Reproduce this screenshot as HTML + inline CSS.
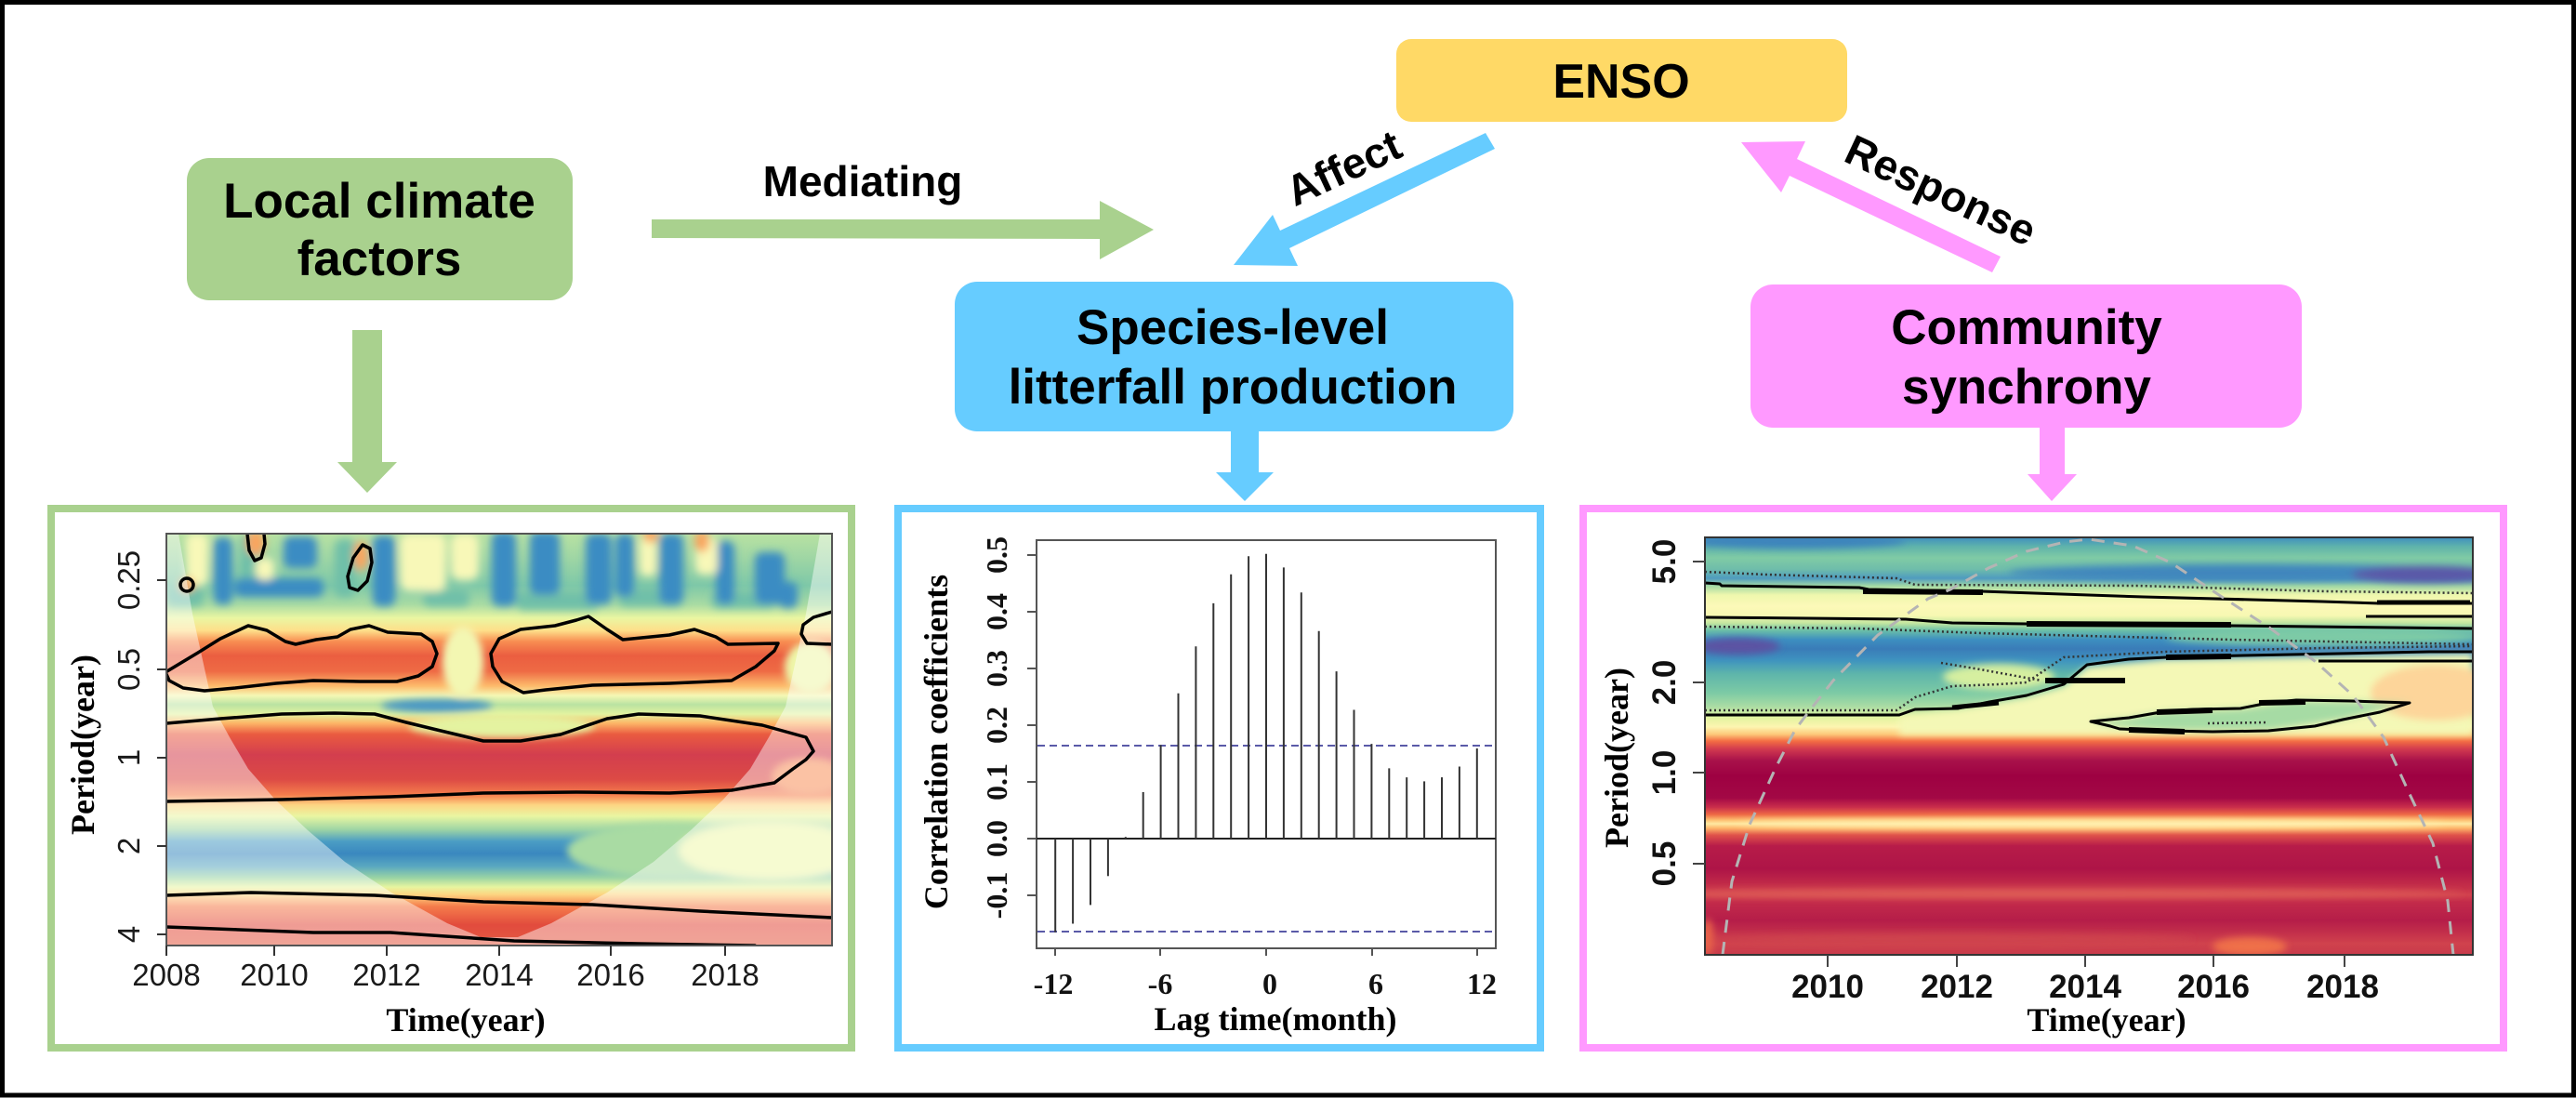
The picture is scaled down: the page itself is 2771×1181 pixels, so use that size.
<!DOCTYPE html>
<html><head><meta charset="utf-8"><style>
html,body{margin:0;padding:0;background:#fff;}
svg{display:block;}
.sb{font-family:"Liberation Sans",Arial,sans-serif;font-weight:bold;}
.sr{font-family:"Liberation Sans",Arial,sans-serif;}
.tb{font-family:"Liberation Serif","Times New Roman",serif;font-weight:bold;}
</style></head><body>
<svg width="2771" height="1181" viewBox="0 0 2771 1181" xmlns="http://www.w3.org/2000/svg">
<defs>
<filter id="b3" x="-30%" y="-30%" width="160%" height="160%"><feGaussianBlur stdDeviation="4.5"/></filter>
<filter id="b4" x="-20%" y="-20%" width="140%" height="140%"><feGaussianBlur stdDeviation="4"/></filter>
<clipPath id="cl"><rect x="179" y="574" width="716" height="443"/></clipPath>
<clipPath id="cr"><rect x="1834" y="578" width="826" height="449"/></clipPath>
<linearGradient id="gl" x1="0" y1="574" x2="0" y2="1017" gradientUnits="userSpaceOnUse">
<stop offset="0" stop-color="#b9e2a2"/><stop offset=".059" stop-color="#9fd6a4"/><stop offset=".126" stop-color="#7ec8a8"/>
<stop offset=".172" stop-color="#a9dba3"/><stop offset=".205" stop-color="#eaf6a2"/><stop offset=".235" stop-color="#fedf8a"/>
<stop offset=".262" stop-color="#f88d52"/><stop offset=".296" stop-color="#eb5e40"/><stop offset=".334" stop-color="#ee6a44"/>
<stop offset=".370" stop-color="#fdbb6c"/><stop offset=".393" stop-color="#f5f8b4"/><stop offset=".415" stop-color="#b9e2a1"/>
<stop offset=".438" stop-color="#e2f3a0"/><stop offset=".460" stop-color="#fdb667"/><stop offset=".487" stop-color="#ea5b40"/>
<stop offset=".537" stop-color="#d33e4e"/><stop offset=".596" stop-color="#dc4a45"/><stop offset=".634" stop-color="#f57d4c"/>
<stop offset=".659" stop-color="#fdd583"/><stop offset=".686" stop-color="#e9f6a2"/><stop offset=".718" stop-color="#9fd5a4"/>
<stop offset=".747" stop-color="#4b9dc4"/><stop offset=".777" stop-color="#3a88bf"/><stop offset=".808" stop-color="#5aa8c0"/>
<stop offset=".835" stop-color="#98d3a4"/><stop offset=".858" stop-color="#e7f5a0"/><stop offset=".876" stop-color="#fdd581"/>
<stop offset=".905" stop-color="#f57c4b"/><stop offset=".950" stop-color="#e24b3d"/><stop offset="1" stop-color="#e45a42"/>
</linearGradient>
<linearGradient id="gr" x1="0" y1="578" x2="0" y2="1027" gradientUnits="userSpaceOnUse">
<stop offset="0" stop-color="#3f8fc0"/><stop offset=".022" stop-color="#5fb3ab"/><stop offset=".049" stop-color="#80cba5"/>
<stop offset=".076" stop-color="#6fbdaa"/><stop offset=".098" stop-color="#4f9bbf"/><stop offset=".116" stop-color="#a2d9a4"/>
<stop offset=".138" stop-color="#eef7ad"/><stop offset=".165" stop-color="#fcf9b8"/><stop offset=".187" stop-color="#f7f8b2"/>
<stop offset=".205" stop-color="#c5e7a0"/><stop offset=".223" stop-color="#6bbfa8"/><stop offset=".245" stop-color="#3d8fc0"/>
<stop offset=".267" stop-color="#3a7cb8"/><stop offset=".294" stop-color="#3e93bf"/><stop offset=".327" stop-color="#5eb5ab"/>
<stop offset=".372" stop-color="#7ccaa5"/><stop offset=".405" stop-color="#aadca4"/><stop offset=".432" stop-color="#e3f4a0"/>
<stop offset=".454" stop-color="#fdf5b0"/><stop offset=".472" stop-color="#fdc879"/><stop offset=".488" stop-color="#f46d43"/>
<stop offset=".508" stop-color="#d0384f"/><stop offset=".535" stop-color="#a8114a"/><stop offset=".572" stop-color="#9e0142"/>
<stop offset=".624" stop-color="#a30845"/><stop offset=".646" stop-color="#c92d4b"/><stop offset=".664" stop-color="#ef6a45"/>
<stop offset=".677" stop-color="#fdbf70"/><stop offset=".686" stop-color="#fee9a2"/><stop offset=".697" stop-color="#fdb468"/>
<stop offset=".713" stop-color="#e0534a"/><stop offset=".739" stop-color="#b71c49"/><stop offset=".795" stop-color="#ae1447"/>
<stop offset=".840" stop-color="#c63049"/><stop offset=".856" stop-color="#d2424e"/><stop offset=".873" stop-color="#c32b4a"/>
<stop offset=".918" stop-color="#b51d49"/><stop offset=".951" stop-color="#c5324b"/><stop offset=".973" stop-color="#d0424d"/>
<stop offset="1" stop-color="#c83a4b"/>
</linearGradient>
</defs>

<rect x="0" y="0" width="2771" height="1181" fill="#fff"/>
<rect x="2.5" y="2.5" width="2766" height="1175.5" fill="none" stroke="#000" stroke-width="5"/>

<!-- Top boxes -->
<rect x="201" y="170" width="415" height="153" rx="24" fill="#a9d18e"/>
<text class="sb" x="408" y="234" font-size="53" text-anchor="middle">Local climate</text>
<text class="sb" x="408" y="296" font-size="53" text-anchor="middle">factors</text>

<rect x="1502" y="42" width="485" height="89" rx="16" fill="#ffd966"/>
<text class="sb" x="1744" y="105" font-size="52" text-anchor="middle">ENSO</text>

<rect x="1027" y="303" width="601" height="161" rx="24" fill="#66ccff"/>
<text class="sb" x="1326" y="370" font-size="53" text-anchor="middle">Species-level</text>
<text class="sb" x="1326" y="434" font-size="53" text-anchor="middle">litterfall production</text>

<rect x="1883" y="306" width="593" height="154" rx="24" fill="#ff99ff"/>
<text class="sb" x="2180" y="370" font-size="53" text-anchor="middle">Community</text>
<text class="sb" x="2180" y="434" font-size="53" text-anchor="middle">synchrony</text>

<!-- Arrows -->
<polygon points="701,236 1183,236 1183,216 1241,247 1183,279 1183,257 701,256" fill="#a9d18e"/>
<text class="sb" x="928" y="211" font-size="46" text-anchor="middle">Mediating</text>
<polygon points="379,355 411,355 411,497 427,497 395,530 363,497 379,497" fill="#a9d18e"/>
<polygon points="1324,464 1354,464 1354,508 1370,508 1339,539 1308,508 1324,508" fill="#66ccff"/>
<polygon points="2194,460 2221,460 2221,510 2234,510 2207,539 2181,510 2194,510" fill="#ff99ff"/>
<polygon points="1598,143 1377,248 1369,231 1327,285 1396,286 1387,267 1608,160" fill="#66ccff"/>
<text class="sb" font-size="46" text-anchor="middle" transform="translate(1452,195) rotate(-25)">Affect</text>
<polygon points="1873,153 1942,152 1933,171 2152,276 2143,293 1925,189 1916,207" fill="#ff99ff"/>
<text class="sb" font-size="46" text-anchor="middle" transform="translate(2081,219) rotate(25)">Response</text>

<!-- Panels -->
<rect x="55" y="547" width="861" height="580" fill="none" stroke="#a9d18e" stroke-width="8"/>
<rect x="966" y="547" width="691" height="580" fill="none" stroke="#66ccff" stroke-width="8"/>
<rect x="1703" y="547" width="990" height="580" fill="none" stroke="#ff99ff" stroke-width="8"/>

<!-- ===== Left wavelet ===== -->
<g clip-path="url(#cl)">
<rect x="179" y="574" width="716" height="443" fill="url(#gl)"/>
<g filter="url(#b3)">
<g fill="#6fbfa9">
<rect x="258" y="574" width="26" height="60" rx="8"/><rect x="360" y="580" width="22" height="62" rx="8"/>
<rect x="555" y="636" width="90" height="20" rx="8"/><rect x="665" y="632" width="70" height="20" rx="8"/>
<rect x="765" y="636" width="70" height="18" rx="8"/><rect x="455" y="634" width="50" height="18" rx="8"/>
<rect x="179" y="630" width="40" height="22" rx="8"/>
</g>
<g fill="#3a8cc3">
<rect x="230" y="578" width="20" height="72" rx="8"/><rect x="252" y="622" width="96" height="20" rx="8"/>
<rect x="305" y="577" width="36" height="34" rx="8"/><rect x="401" y="576" width="24" height="76" rx="8"/>
<rect x="529" y="572" width="26" height="80" rx="8"/><rect x="570" y="572" width="32" height="68" rx="8"/>
<rect x="630" y="574" width="28" height="76" rx="8"/><rect x="662" y="574" width="20" height="68" rx="8"/>
<rect x="709" y="574" width="26" height="76" rx="8"/><rect x="770" y="582" width="20" height="68" rx="8"/>
<rect x="812" y="594" width="32" height="56" rx="8"/><rect x="838" y="626" width="20" height="28" rx="8"/>
</g>
<g fill="#f8f8b8">
<rect x="430" y="574" width="50" height="62" rx="10"/><rect x="485" y="574" width="30" height="50" rx="10"/>
<rect x="688" y="576" width="18" height="44" rx="8"/><rect x="748" y="578" width="24" height="40" rx="8"/>
<rect x="275" y="600" width="20" height="24" rx="8"/><rect x="200" y="574" width="24" height="56" rx="8"/>
</g>
<g fill="#f9a55e">
<ellipse cx="275" cy="584" rx="10" ry="14"/><ellipse cx="388" cy="598" rx="8" ry="16"/>
<ellipse cx="755" cy="582" rx="8" ry="12"/><ellipse cx="700" cy="576" rx="8" ry="8"/>
<ellipse cx="201" cy="629" rx="8" ry="8"/>
</g>
</g>
<g filter="url(#b4)">
<ellipse cx="498" cy="712" rx="22" ry="38" fill="#f3f7b2"/>
<ellipse cx="872" cy="718" rx="28" ry="28" fill="#eef6a8"/>
<ellipse cx="470" cy="759" rx="60" ry="7" fill="#4a97c4"/>
<ellipse cx="540" cy="781" rx="100" ry="13" fill="#e4f3a0"/>
<ellipse cx="720" cy="915" rx="110" ry="30" fill="#a9dba3"/>
<ellipse cx="830" cy="915" rx="100" ry="32" fill="#eef7ac"/>
<ellipse cx="870" cy="835" rx="40" ry="20" fill="#f7905a"/>
</g>
<path fill-rule="evenodd" fill="#fff" fill-opacity="0.45" d="M179 574 H895 V1017 H179 Z M192 574 L207 660 L229 760 L247 793 L267 827 L296 860 L331 893 L371 927 L421 960 L481 993 L517 1008 L557 1008 L593 993 L653 960 L703 927 L743 893 L778 860 L807 827 L827 793 L845 760 L867 660 L882 574 Z"/>
<g fill="none" stroke="#000" stroke-width="3.5" stroke-linejoin="round" stroke-linecap="round">
<ellipse cx="201" cy="629" rx="7" ry="7"/>
<path d="M266 574 L268 592 L274 603 L281 600 L285 585 L284 574"/>
<path d="M390 586 L398 590 L400 605 L395 625 L385 635 L376 632 L374 620 L380 600 Z"/>
<path d="M178 723 L213 702 L237 687 L267 673 L287 678 L307 690 L318 693 L340 688 L363 685 L377 677 L397 673 L417 680 L453 682 L465 690 L470 703 L465 717 L450 727 L427 733 L387 733 L337 732 L297 735 L253 740 L220 743 L197 740 L182 732 Z"/>
<path d="M528 703 L537 687 L560 677 L597 673 L620 667 L633 663 L653 677 L670 688 L720 683 L747 677 L770 685 L783 693 L837 692 L833 700 L813 717 L787 732 L720 735 L637 737 L587 742 L563 745 L540 733 L530 717 Z"/>
<path d="M895 658 L875 664 L864 672 L862 682 L868 692 L895 693"/>
<path d="M179 778 L237 773 L303 768 L360 767 L403 768 L437 777 L470 785 L520 797 L560 797 L603 790 L653 773 L687 768 L753 770 L820 780 L867 793 L875 808 L867 817 L853 827 L833 842 L787 850 L720 853 L620 852 L520 853 L420 857 L303 860 L179 862"/>
<path d="M179 963 L270 960 L403 963 L520 970 L637 973 L753 980 L895 987"/>
<path d="M179 997 L337 1003 L420 1003 L553 1012 L687 1015 L812 1017"/>
</g>
</g>
<rect x="179" y="574" width="716" height="443" fill="none" stroke="#555" stroke-width="2"/>
<g stroke="#333" stroke-width="2">
<line x1="169" y1="624" x2="179" y2="624"/><line x1="169" y1="720" x2="179" y2="720"/>
<line x1="169" y1="815" x2="179" y2="815"/><line x1="169" y1="910" x2="179" y2="910"/>
<line x1="169" y1="1005" x2="179" y2="1005"/>
<line x1="179" y1="1017" x2="179" y2="1028"/><line x1="295" y1="1017" x2="295" y2="1028"/>
<line x1="416" y1="1017" x2="416" y2="1028"/><line x1="537" y1="1017" x2="537" y2="1028"/>
<line x1="657" y1="1017" x2="657" y2="1028"/><line x1="780" y1="1017" x2="780" y2="1028"/>
</g>
<g class="sr" font-size="33" fill="#1a1a1a" text-anchor="middle">
<text transform="translate(150,624) rotate(-90)">0.25</text>
<text transform="translate(150,720) rotate(-90)">0.5</text>
<text transform="translate(150,815) rotate(-90)">1</text>
<text transform="translate(150,910) rotate(-90)">2</text>
<text transform="translate(150,1005) rotate(-90)">4</text>
<text x="179" y="1060">2008</text><text x="295" y="1060">2010</text><text x="416" y="1060">2012</text>
<text x="537" y="1060">2014</text><text x="657" y="1060">2016</text><text x="780" y="1060">2018</text>
</g>
<text class="tb" font-size="36" text-anchor="middle" x="501" y="1109">Time(year)</text>
<text class="tb" font-size="36" text-anchor="middle" transform="translate(101,801) rotate(-90)">Period(year)</text>

<!-- ===== Middle ACF ===== -->
<rect x="1115" y="581" width="494" height="439" fill="#fff" stroke="#555" stroke-width="2"/>
<line x1="1115" y1="902" x2="1609" y2="902" stroke="#222" stroke-width="2"/>
<g stroke="#5a5aa8" stroke-width="2" stroke-dasharray="8,5">
<line x1="1116" y1="802" x2="1608" y2="802"/><line x1="1116" y1="1002" x2="1608" y2="1002"/>
</g>
<g stroke="#333" stroke-width="2">
<line x1="1135.2" y1="902" x2="1135.2" y2="1002.7"/><line x1="1154.1" y1="902" x2="1154.1" y2="993.5"/>
<line x1="1173" y1="902" x2="1173" y2="973.4"/><line x1="1191.9" y1="902" x2="1191.9" y2="942.3"/>
<line x1="1210.8" y1="902" x2="1210.8" y2="900.2"/><line x1="1229.7" y1="902" x2="1229.7" y2="852"/>
<line x1="1248.6" y1="902" x2="1248.6" y2="801.4"/><line x1="1267.5" y1="902" x2="1267.5" y2="745.8"/>
<line x1="1286.4" y1="902" x2="1286.4" y2="695.2"/><line x1="1305.3" y1="902" x2="1305.3" y2="648.9"/>
<line x1="1324.2" y1="902" x2="1324.2" y2="617.7"/><line x1="1343.1" y1="902" x2="1343.1" y2="598.2"/>
<line x1="1362" y1="902" x2="1362" y2="595.8"/><line x1="1380.9" y1="902" x2="1380.9" y2="610.4"/>
<line x1="1399.8" y1="902" x2="1399.8" y2="637.3"/><line x1="1418.7" y1="902" x2="1418.7" y2="678.7"/>
<line x1="1437.6" y1="902" x2="1437.6" y2="722.1"/><line x1="1456.5" y1="902" x2="1456.5" y2="763.5"/>
<line x1="1475.4" y1="902" x2="1475.4" y2="800.1"/><line x1="1494.3" y1="902" x2="1494.3" y2="826.4"/>
<line x1="1513.2" y1="902" x2="1513.2" y2="836.1"/><line x1="1532.1" y1="902" x2="1532.1" y2="840.4"/>
<line x1="1551" y1="902" x2="1551" y2="836.1"/><line x1="1569.9" y1="902" x2="1569.9" y2="824.5"/>
<line x1="1588.8" y1="902" x2="1588.8" y2="805"/>
</g>
<g stroke="#555" stroke-width="2">
<line x1="1105" y1="597" x2="1115" y2="597"/><line x1="1105" y1="658" x2="1115" y2="658"/>
<line x1="1105" y1="719" x2="1115" y2="719"/><line x1="1105" y1="780" x2="1115" y2="780"/>
<line x1="1105" y1="841" x2="1115" y2="841"/><line x1="1105" y1="902" x2="1115" y2="902"/>
<line x1="1105" y1="963" x2="1115" y2="963"/>
<line x1="1135" y1="1020" x2="1135" y2="1028"/><line x1="1248" y1="1020" x2="1248" y2="1028"/>
<line x1="1362" y1="1020" x2="1362" y2="1028"/><line x1="1476" y1="1020" x2="1476" y2="1028"/>
<line x1="1589" y1="1020" x2="1589" y2="1028"/>
</g>
<g class="tb" font-size="32" fill="#111" text-anchor="middle">
<text transform="translate(1083,597) rotate(-90)">0.5</text>
<text transform="translate(1083,658) rotate(-90)">0.4</text>
<text transform="translate(1083,719) rotate(-90)">0.3</text>
<text transform="translate(1083,780) rotate(-90)">0.2</text>
<text transform="translate(1083,841) rotate(-90)">0.1</text>
<text transform="translate(1083,902) rotate(-90)">0.0</text>
<text transform="translate(1083,963) rotate(-90)">-0.1</text>
<text x="1133" y="1069">-12</text><text x="1248" y="1069">-6</text><text x="1366" y="1069">0</text>
<text x="1480" y="1069">6</text><text x="1594" y="1069">12</text>
</g>
<text class="tb" font-size="36" text-anchor="middle" x="1372" y="1108">Lag time(month)</text>
<text class="tb" font-size="36" text-anchor="middle" transform="translate(1019,798) rotate(-90)">Correlation coefficients</text>

<!-- ===== Right wavelet ===== -->
<g clip-path="url(#cr)">
<rect x="1834" y="578" width="826" height="449" fill="url(#gr)"/>
<g filter="url(#b4)">
<polygon points="2043,771 2106,764 2180,750 2220,738 2245,717 2330,709 2660,703 2660,790 2043,790" fill="#f4f8b6"/>
<ellipse cx="2620" cy="745" rx="70" ry="30" fill="#fdd59a"/>
<ellipse cx="2150" cy="728" rx="60" ry="14" fill="#d6efa0"/>
<path d="M2249 776 L2290 772 L2330 765 L2410 762 L2470 753 L2530 754 L2592 756 L2520 774 L2440 786 L2330 786 L2270 781 Z" fill="#a6dba4"/>
<ellipse cx="1870" cy="695" rx="45" ry="9" fill="#5b52a3"/>
<ellipse cx="2420" cy="616" rx="260" ry="9" fill="#3f86bd"/>
<ellipse cx="2610" cy="618" rx="80" ry="9" fill="#5a58a8"/>
<ellipse cx="1930" cy="582" rx="120" ry="8" fill="#3c84bc"/>
<ellipse cx="2500" cy="685" rx="170" ry="10" fill="#7dcba6"/>
<ellipse cx="2250" cy="886" rx="380" ry="4" fill="#fff1b0"/>
<ellipse cx="2200" cy="961" rx="450" ry="5" fill="#de5c56"/>
<ellipse cx="2420" cy="1018" rx="40" ry="10" fill="#ef7049"/>
<ellipse cx="1837" cy="1008" rx="6" ry="20" fill="#e9654a"/>
<ellipse cx="2100" cy="1010" rx="260" ry="5" fill="#cf444e"/>
</g>
<g fill="none" stroke="#000" stroke-linejoin="round">
<path stroke-width="3" d="M1834 627 L1850 628 L1852 630 L2000 632 L2010 634 L2131 636 L2306 642 L2498 647 L2560 649 L2660 649"/>
<path stroke-width="6" d="M2004 636 L2133 637"/>
<path stroke-width="5" d="M2557 648 L2657 648"/>
<path stroke-width="3" d="M1834 664 L2050 666 L2100 670 L2180 671 L2400 673 L2660 676"/>
<path stroke-width="6" d="M2180 671 L2400 672"/>
<path stroke-width="3" d="M2545 663 L2660 663"/>
<path stroke-width="3" d="M1834 769 L2043 769 L2060 763 L2106 762 L2140 755 L2180 748 L2220 736 L2245 715 L2290 709 L2330 707 L2413 705 L2613 701 L2660 701"/>
<path stroke-width="6" d="M2200 732 L2286 732"/>
<path stroke-width="5" d="M2100 761 L2150 756"/>
<path stroke-width="6" d="M2330 707 L2400 706"/>
<path stroke-width="3" d="M2494 711 L2660 711"/>
<path stroke-width="3" d="M2249 776 L2290 772 L2330 765 L2360 763 L2410 762 L2440 756 L2470 753 L2530 754 L2592 756 L2560 766 L2520 774 L2490 781 L2440 786 L2380 787 L2330 786 L2280 784 L2270 781 Z"/>
<path stroke-width="6" d="M2320 766 L2380 764 M2430 756 L2480 755 M2290 785 L2350 787"/>
</g>
<g fill="none" stroke="#333" stroke-width="2.5" stroke-dasharray="2,3">
<path d="M1834 615 L1900 618 L2040 622 L2060 629 L2300 630 L2500 636 L2660 638"/>
<path d="M1834 674 L2000 676 L2131 681 L2400 688 L2660 693"/>
<path d="M2088 713 L2130 720 L2196 732"/>
<path d="M1834 764 L2040 764 L2060 750 L2100 738 L2150 736 L2180 734 L2220 707 L2330 701 L2500 697 L2660 695"/>
<path d="M2375 778 L2440 777"/>
</g>
<path fill="none" stroke="#b4b4b4" stroke-width="3" stroke-dasharray="14,10" d="M1853 1027 L1863 948 L1882 887 L1910 826 L1931 785 L1943 769 L1972 732 L2020 683 L2074 644 L2098 634 L2139 611 L2180 593 L2221 583 L2247 580 L2294 587 L2335 605 L2384 638 L2441 675 L2490 711 L2531 748 L2564 793 L2592 854 L2617 907 L2633 969 L2639 1027"/>
</g>
<rect x="1834" y="578" width="826" height="449" fill="none" stroke="#333" stroke-width="2"/>
<g stroke="#444" stroke-width="2">
<line x1="1821" y1="604" x2="1834" y2="604"/><line x1="1821" y1="734" x2="1834" y2="734"/>
<line x1="1821" y1="831" x2="1834" y2="831"/><line x1="1821" y1="929" x2="1834" y2="929"/>
<line x1="1966" y1="1027" x2="1966" y2="1040"/><line x1="2105" y1="1027" x2="2105" y2="1040"/>
<line x1="2243" y1="1027" x2="2243" y2="1040"/><line x1="2381" y1="1027" x2="2381" y2="1040"/>
<line x1="2522" y1="1027" x2="2522" y2="1040"/>
</g>
<g class="sb" font-size="35" fill="#111" text-anchor="middle">
<text transform="translate(1802,604) rotate(-90)">5.0</text>
<text transform="translate(1802,734) rotate(-90)">2.0</text>
<text transform="translate(1802,831) rotate(-90)">1.0</text>
<text transform="translate(1802,929) rotate(-90)">0.5</text>
<text x="1966" y="1073">2010</text><text x="2105" y="1073">2012</text><text x="2243" y="1073">2014</text>
<text x="2381" y="1073">2016</text><text x="2520" y="1073">2018</text>
</g>
<text class="tb" font-size="36" text-anchor="middle" x="2266" y="1109">Time(year)</text>
<text class="tb" font-size="36" text-anchor="middle" transform="translate(1751,815) rotate(-90)">Period(year)</text>
</svg>
</body></html>
